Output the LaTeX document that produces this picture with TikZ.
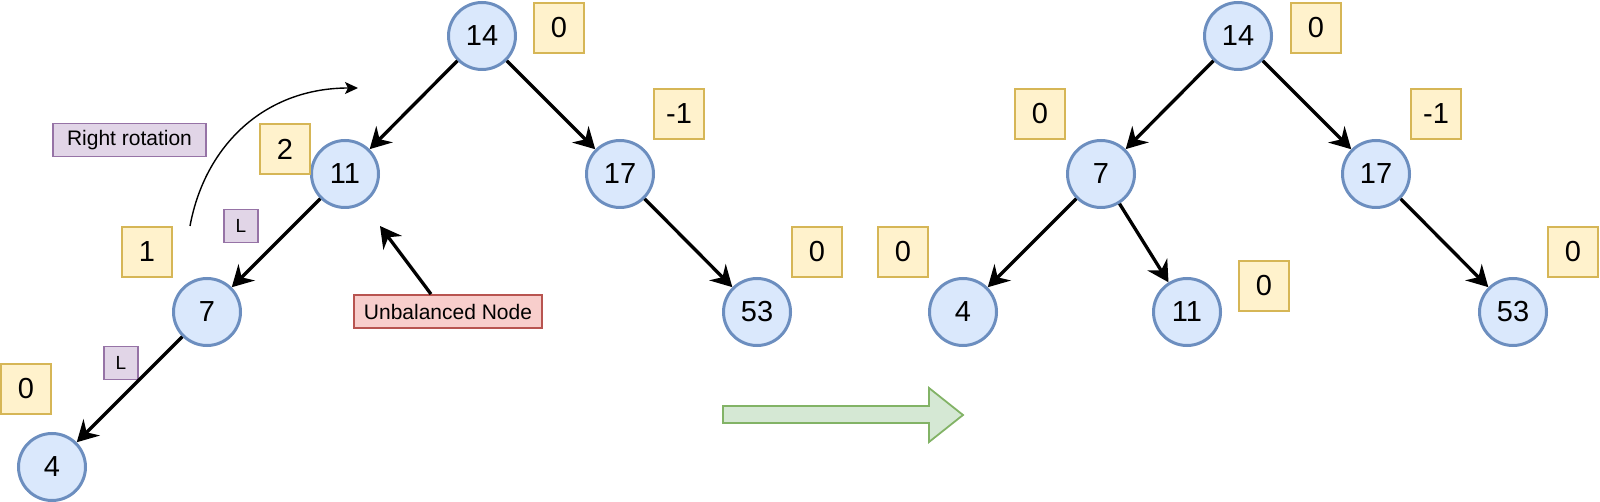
\documentclass[tikz,border=0pt]{standalone}
\usepackage{fontspec}
\setmainfont{Liberation Sans}
\usepackage{tikz}
\usetikzlibrary{arrows.meta,positioning}
\definecolor{keyfill}{HTML}{DAE8FC}
\definecolor{keyline}{HTML}{6C8EBF}
\definecolor{bffill}{HTML}{FFF2CC}
\definecolor{bfline}{HTML}{D6B656}
\definecolor{dirfill}{HTML}{E1D5E7}
\definecolor{dirline}{HTML}{9673A6}
\definecolor{warnfill}{HTML}{F8CECC}
\definecolor{warnline}{HTML}{B85450}
\definecolor{movefill}{HTML}{D5E8D4}
\definecolor{moveline}{HTML}{82B366}
\tikzstyle{key} = [circle, draw=keyline, fill=keyfill, line width=3pt, minimum size=67pt, inner sep=0pt, font=\fontsize{29}{32}\selectfont]
\tikzstyle{bf} = [rectangle, draw=bfline, fill=bffill, line width=1.8pt, minimum width=50pt, minimum height=50pt, inner sep=0pt, font=\fontsize{29}{32}\selectfont]
\tikzstyle{dir} = [rectangle, draw=dirline, fill=dirfill, line width=1.8pt, minimum width=34pt, minimum height=33pt, inner sep=0pt, font=\fontsize{19}{21}\selectfont]
\tikzstyle{note} = [rectangle, line width=1.8pt, minimum height=33pt, inner sep=0pt, font=\fontsize{21}{24}\selectfont]
\tikzstyle{arrow} = [line width=3.3pt,->]

\begin{document}
\begin{tikzpicture}[x=1pt, y=-1pt, on grid, >={Stealth[length=21pt,width=23pt,inset=7pt]}]
            \useasboundingbox (0,0) rectangle (1600,502);

            \node[key] (a14) at (482,36) {14};
            \node[key, below left=138pt and 137pt of a14] (a11) {11};
            \node[key, below right=138pt and 138pt of a14] (a17) {17};
            \node[key, below left=138pt and 138pt of a11] (a7) {7};
            \node[key, below right=138pt and 137pt of a17] (a53) {53};
            \node[key, below left=155pt and 155pt of a7] (a4) {4};

            \node[bf, above right=8pt and 77pt of a14] (abf14) {0};
            \node[bf, above left=25pt and 60pt of a11] (abf11) {2};
            \node[bf, above right=60pt and 59pt of a17] (abf17) {-1};
            \node[bf, above left=60pt and 60pt of a7] (abf7) {1};
            \node[bf, above right=60pt and 60pt of a53] (abf53) {0};
            \node[bf, above left=78pt and 26pt of a4] (abf4) {0};

            \node[dir] (dirA) at (241,226) {L};
            \node[dir] (dirB) at (121,363) {L};

            \node[note, draw=dirline, fill=dirfill, minimum width=153pt] (rot) at (129.5,140) {Right rotation};
            \node[note, draw=warnline, fill=warnfill, minimum width=188pt] (unbal) at (448,311.5) {Unbalanced Node};

            \draw[arrow] (a14) -- (a11);
            \draw[arrow] (a14) -- (a17);
            \draw[arrow] (a11) -- (a7);
            \draw[arrow] (a17) -- (a53);
            \draw[arrow] (a7) -- (a4);

            \coordinate (rotFrom) at (190,226);
            \coordinate (rotTo) at (358,88);
            \draw[line width=1.4pt, -{Stealth[length=13pt,width=12pt,inset=3pt]}] (rotFrom) .. controls (205,145) and (265,88) .. (rotTo);

            \coordinate (unbalTip) at (380,226);
            \draw[arrow] ([xshift=-17pt]unbal.north) -- (unbalTip);

            \draw[draw=moveline, fill=movefill, line width=1.8pt] (723,406) -- (929,406) -- (929,388) -- (963,415) -- (929,442) -- (929,423) -- (723,423) -- cycle;

            \node[key] (b14) at (1238,36) {14};
            \node[key, below left=138pt and 137pt of b14] (b7) {7};
            \node[key, below right=138pt and 138pt of b14] (b17) {17};
            \node[key, below left=138pt and 138pt of b7] (b4) {4};
            \node[key, below right=138pt and 86pt of b7] (b11) {11};
            \node[key, below right=138pt and 137pt of b17] (b53) {53};

            \node[bf, above right=8pt and 78pt of b14] (bbf14) {0};
            \node[bf, above left=60pt and 61pt of b7] (bbf7) {0};
            \node[bf, above right=60pt and 60pt of b17] (bbf17) {-1};
            \node[bf, above left=60pt and 60pt of b4] (bbf4) {0};
            \node[bf, above right=26pt and 77pt of b11] (bbf11) {0};
            \node[bf, above right=60pt and 60pt of b53] (bbf53) {0};

            \draw[arrow] (b14) -- (b7);
            \draw[arrow] (b14) -- (b17);
            \draw[arrow] (b7) -- (b4);
            \draw[arrow] (b7) -- (b11);
            \draw[arrow] (b17) -- (b53);
        \end{tikzpicture}
\end{document}
